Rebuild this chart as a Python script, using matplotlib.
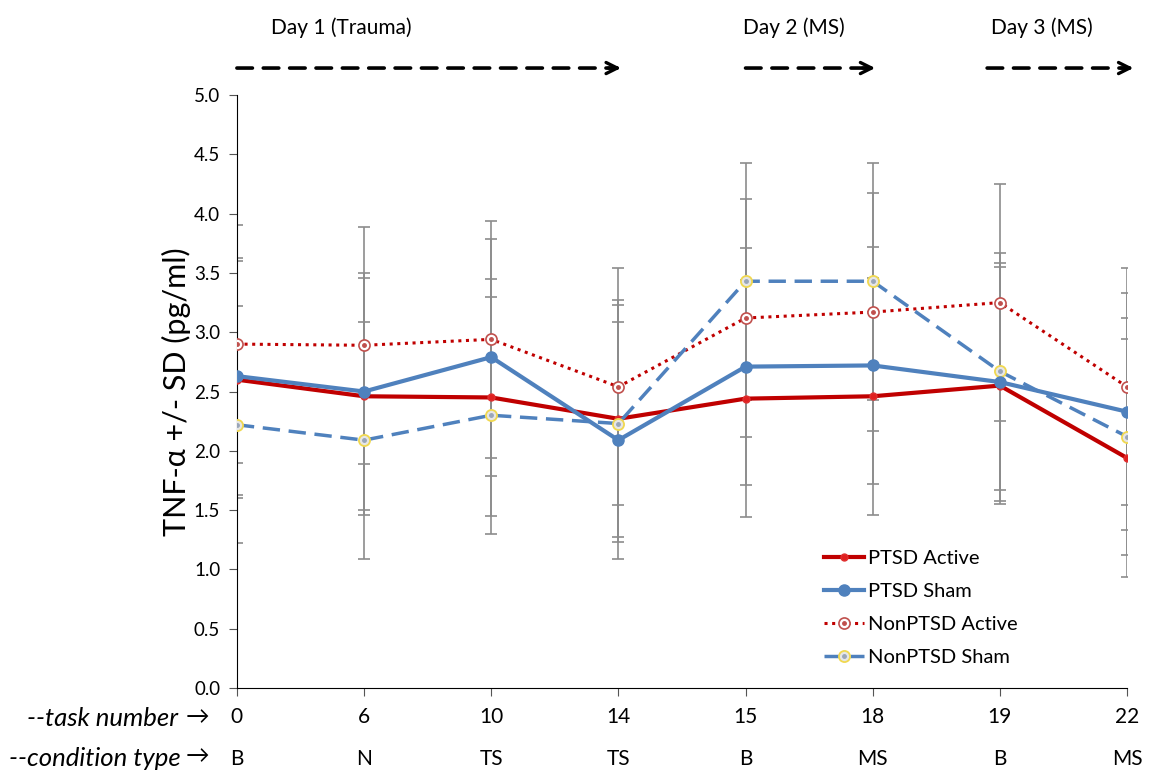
import numpy as np
import matplotlib
matplotlib.use("Agg")
import matplotlib.pyplot as plt

plt.rcParams['font.family'] = ['Lato', 'DejaVu Sans']

task_numbers = ["0", "6", "10", "14", "15", "18", "19", "22"]
condition_types = ["B", "N", "TS", "TS", "B", "MS", "B", "MS"]

ptsd_active = [2.60, 2.46, 2.45, 2.27, 2.44, 2.46, 2.55, 1.94]
ptsd_sham = [2.63, 2.50, 2.79, 2.09, 2.71, 2.72, 2.58, 2.33]
nonptsd_active = [2.90, 2.89, 2.94, 2.54, 3.12, 3.17, 3.25, 2.54]
nonptsd_sham = [2.22, 2.09, 2.30, 2.23, 3.43, 3.43, 2.67, 2.12]

ptsd_active_sd = [1.0, 1.0, 1.0, 1.0, 1.0, 1.0, 1.0, 1.0]
ptsd_sham_sd = [1.0, 1.0, 1.0, 1.0, 1.0, 1.0, 1.0, 1.0]
nonptsd_active_sd = [1.0, 1.0, 1.0, 1.0, 1.0, 1.0, 1.0, 1.0]
nonptsd_sham_sd = [1.0, 1.0, 1.0, 1.0, 1.0, 1.0, 1.0, 1.0]

day_labels = ["Day 1 (Trauma)", "Day 2 (MS)", "Day 3 (MS)"]
day_spans = [(0, 3.02), (4, 5.02), (5.9, 7.05)]
day_label_x = [0.82, 4.38, 6.33]

fig = plt.figure(figsize=(11.5, 7.77), dpi=100)
ax = fig.add_axes([0.206, 0.1145, 0.774, 0.7632])

x = np.arange(len(task_numbers))

# error bars first, thin grey
for vals, sd in [(ptsd_active, ptsd_active_sd), (ptsd_sham, ptsd_sham_sd),
                 (nonptsd_active, nonptsd_active_sd), (nonptsd_sham, nonptsd_sham_sd)]:
    ax.errorbar(x, vals, yerr=sd, fmt='none', ecolor='#8c8c8c', elinewidth=1.2,
                capsize=4, capthick=1.2, zorder=2)

l1, = ax.plot(x, ptsd_active, color='#c00000', lw=3, marker='o', ms=5,
              mfc='#e02020', mec='#e03030', zorder=4)
l2, = ax.plot(x, ptsd_sham, color='#4f81bd', lw=3, marker='o', ms=8,
              mfc='#4f81bd', mec='#4f81bd', zorder=5)
l3, = ax.plot(x, nonptsd_active, color='#c00000', lw=2.2, ls=(0, (1, 1.5)), marker='o', ms=8,
              mfc='white', mec='#c0504d', mew=1.2, zorder=4)
d3, = ax.plot(x, nonptsd_active, ls='none', marker='o', ms=2.5, color='#c0504d', zorder=4)
l4, = ax.plot(x, nonptsd_sham, color='#4f81bd', lw=2.5, ls=(0, (5, 2.5)), marker='o', ms=8,
              mfc='#e6e6e6', mec='#f0d850', mew=1.3, zorder=4)
d4, = ax.plot(x, nonptsd_sham, ls='none', marker='o', ms=2.5, color='#9aa6b8', zorder=4)

ax.set_xlim(0, 7)
ax.set_ylim(0, 5.0)
ax.set_yticks(np.arange(0, 5.01, 0.5))
ax.set_yticklabels([f"{v:.1f}" for v in np.arange(0, 5.01, 0.5)], fontsize=13.5)
ax.set_xticks(x)
ax.set_xticklabels(task_numbers, fontsize=15)
ax.tick_params(axis='x', direction='out', length=6, pad=8, color='#555555')
ax.tick_params(axis='y', direction='out', length=6, pad=6, color='#555555')
for s in ['top', 'right']:
    ax.spines[s].set_visible(False)
ax.spines['left'].set_color('black')
ax.spines['bottom'].set_color('black')

ax.set_ylabel("TNF-α +/- SD (pg/ml)", fontsize=22, labelpad=2)

# condition row
for xi, c in zip(x, condition_types):
    ax.text(xi, -0.119, c, transform=ax.get_xaxis_transform(), ha='center',
            va='center', fontsize=15)

fig.text(0.155, 0.075, "--task number", style='italic', fontsize=18.5, ha='right', va='center')
fig.text(0.182, 0.077, "→", fontsize=17, ha='right', va='center')
fig.text(0.157, 0.024, "--condition type", style='italic', fontsize=18.5, ha='right', va='center')
fig.text(0.182, 0.026, "→", fontsize=17, ha='right', va='center')

# day annotations above the plot: dashed shaft + solid head
for label, (x0, x1), lx in zip(day_labels, day_spans, day_label_x):
    ax.annotate("", xy=(x1 - 0.03, 1.0455), xytext=(x0, 1.0455),
                xycoords=('data', 'axes fraction'),
                arrowprops=dict(arrowstyle='-', lw=2.6, ls=(0, (4.3, 3)), color='black',
                                shrinkA=0, shrinkB=0),
                annotation_clip=False)
    ax.annotate("", xy=(x1, 1.0455), xytext=(x1 - 0.1, 1.0455),
                xycoords=('data', 'axes fraction'),
                arrowprops=dict(arrowstyle='->', lw=2.4, color='black',
                                shrinkA=0, shrinkB=0, mutation_scale=20),
                annotation_clip=False)
    ax.text(lx, 1.113, label, transform=ax.get_xaxis_transform(), fontsize=15,
            ha='center', va='center')

ax.legend([l1, l2, (l3, d3), (l4, d4)],
          ['PTSD Active', 'PTSD Sham', 'NonPTSD Active', 'NonPTSD Sham'],
          loc='lower left', bbox_to_anchor=(0.65, 0.023), frameon=False, fontsize=14.5,
          handlelength=2.0, handletextpad=0.2, labelspacing=0.8, borderaxespad=0)

fig.savefig("out.png", dpi=100)
